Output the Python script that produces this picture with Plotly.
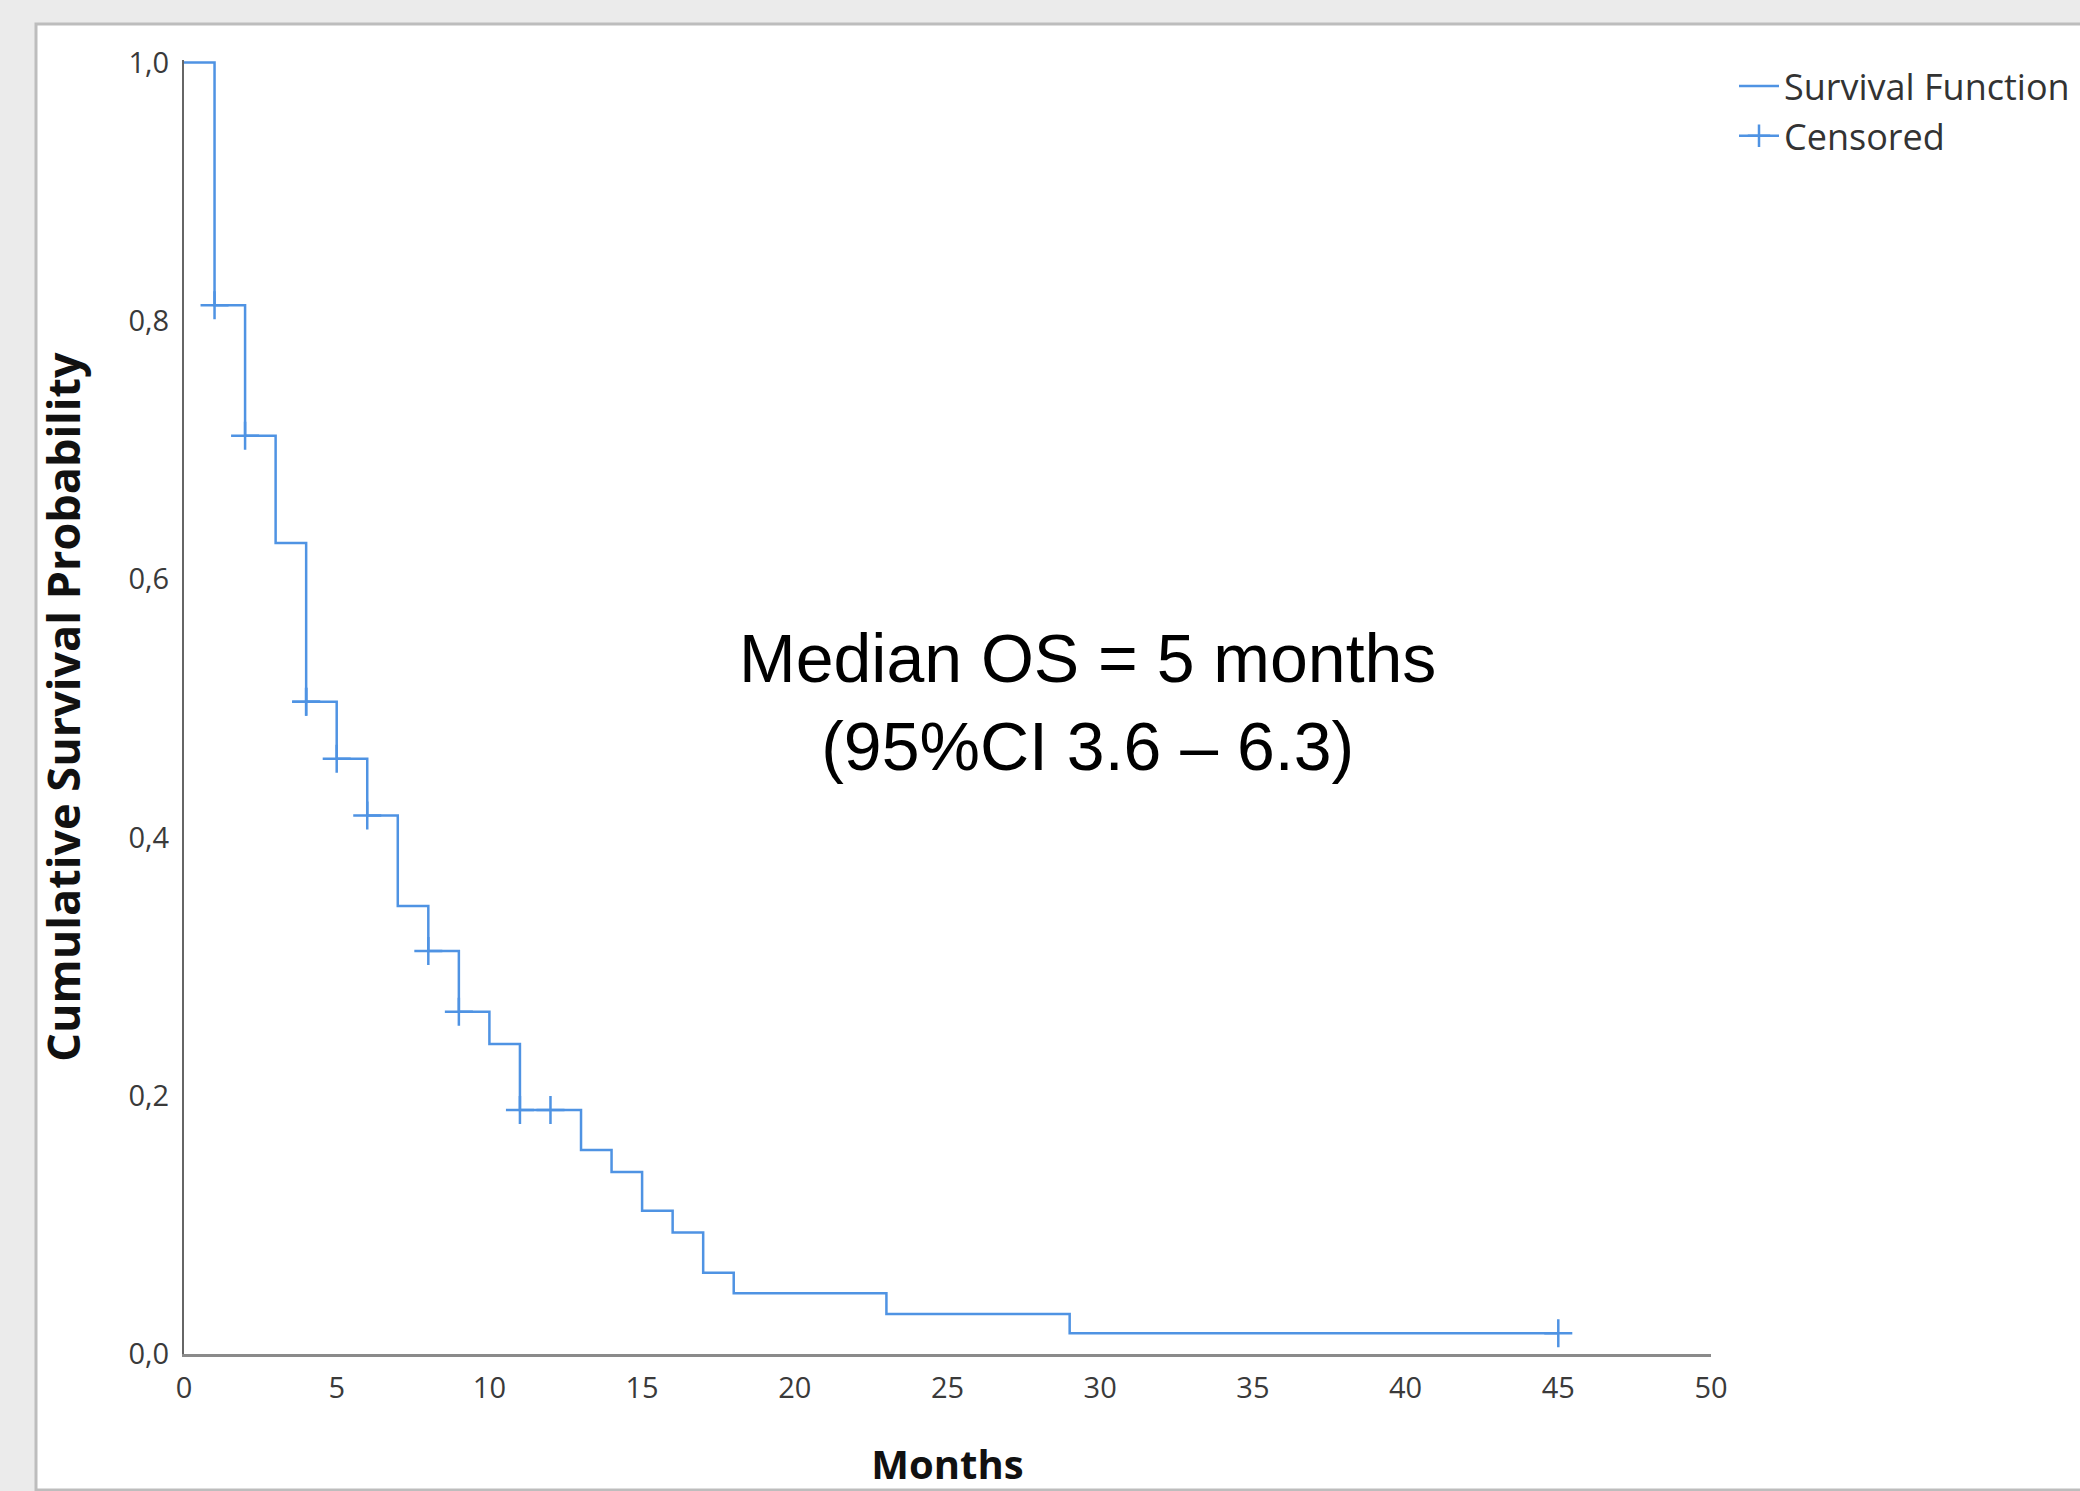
import plotly.graph_objects as go

# ---- data ----
months = [0, 1, 2, 3, 4, 5, 6, 7, 8, 9, 10, 11, 13, 14, 15, 16, 17, 18, 23, 29, 45]
survival = [1.0, 0.812, 0.711, 0.628, 0.505, 0.461, 0.417, 0.347, 0.312, 0.265, 0.240,
            0.189, 0.158, 0.141, 0.111, 0.094, 0.063, 0.047, 0.031, 0.016, 0.016]

censor_months = [1, 2, 4, 4, 5, 6, 8, 9, 11, 12, 45]
censor_surv = [0.812, 0.711, 0.505, 0.505, 0.461, 0.417, 0.312, 0.265, 0.189, 0.189, 0.016]

x_ticks = [0, 5, 10, 15, 20, 25, 30, 35, 40, 45, 50]
y_ticks = [0.0, 0.2, 0.4, 0.6, 0.8, 1.0]
y_tick_labels = ["0,0", "0,2", "0,4", "0,6", "0,8", "1,0"]

series_names = ["Survival Function", "Censored"]
x_title = "Months"
y_title = "Cumulative Survival Probability"
note_text = "Median OS = 5 months<br>(95%CI 3.6 – 6.3)"

# ---- styling ----
BLUE = "#4f93e3"
W, H = 2080, 1491
ML, MR, MT, MB = 184, 369, 60, 137
PW = W - ML - MR
PH = H - MT - MB

fig = go.Figure()

fig.add_trace(go.Scatter(
    x=months, y=survival, mode="lines", line=dict(color=BLUE, width=2.5, shape="hv"),
    name=series_names[0], hoverinfo="skip"))

# isolate each censor point with None so no connecting segments are drawn
cx, cy = [], []
for t, s in zip(censor_months, censor_surv):
    cx += [t, None]
    cy += [s, None]
fig.add_trace(go.Scatter(
    x=cx, y=cy, mode="lines+markers", connectgaps=False,
    line=dict(color=BLUE, width=2.5),
    marker=dict(symbol="cross-thin", size=20, line=dict(color=BLUE, width=2.5)),
    name=series_names[1], hoverinfo="skip"))

# white panel with grey border over light grey background
def px_to_paper_x(px):
    return (px - ML) / PW

def px_to_paper_y(py):
    return (H - MB - py) / PH

fig.add_shape(type="rect", xref="paper", yref="paper",
              x0=px_to_paper_x(36), x1=px_to_paper_x(2120),
              y0=px_to_paper_y(1490), y1=px_to_paper_y(24),
              fillcolor="white", line=dict(color="#bdbdbd", width=3), layer="below")

fig.add_annotation(x=29.6, y=0.505, xref="x", yref="y", text=note_text,
                   showarrow=False, xanchor="center", yanchor="middle", align="center",
                   font=dict(family="Liberation Sans, Arial", size=68, color="black"))

tick_font = dict(family="Open Sans", size=29, color="#3a3a3a")
title_font = dict(family="Open Sans", size=45, color="#111111", weight="bold")

fig.update_xaxes(range=[0, 50], tickvals=x_ticks, ticktext=[str(v) for v in x_ticks],
                 showgrid=False, zeroline=False, showline=True, linecolor="#8a8a8a",
                 linewidth=3, ticks="", tickfont=tick_font, ticklabelstandoff=6,
                 title=dict(text=x_title, font=dict(family="Open Sans", size=40,
                                                    color="#111111", weight="bold"),
                            standoff=48))
fig.update_yaxes(range=[0, 1.002], tickvals=y_ticks, ticktext=y_tick_labels,
                 showgrid=False, zeroline=False, showline=True, linecolor="#666666",
                 linewidth=2, ticks="", tickfont=tick_font, ticklabelstandoff=7,
                 title=dict(text=y_title, font=title_font, standoff=34))

fig.update_layout(
    width=W, height=H,
    margin=dict(l=ML, r=MR, t=MT, b=MB, autoexpand=False),
    paper_bgcolor="#ebebeb", plot_bgcolor="white",
    showlegend=True,
    legend=dict(x=px_to_paper_x(1734), y=px_to_paper_y(56), xanchor="left", yanchor="top",
                xref="paper", yref="paper",
                font=dict(family="Open Sans", size=36, color="#333333"),
                bgcolor="rgba(0,0,0,0)", borderwidth=0, traceorder="normal",
                itemwidth=40, tracegroupgap=0),
)

fig.write_html("out.html", config={"displayModeBar": False},
               post_script="document.body.style.margin='0';")
